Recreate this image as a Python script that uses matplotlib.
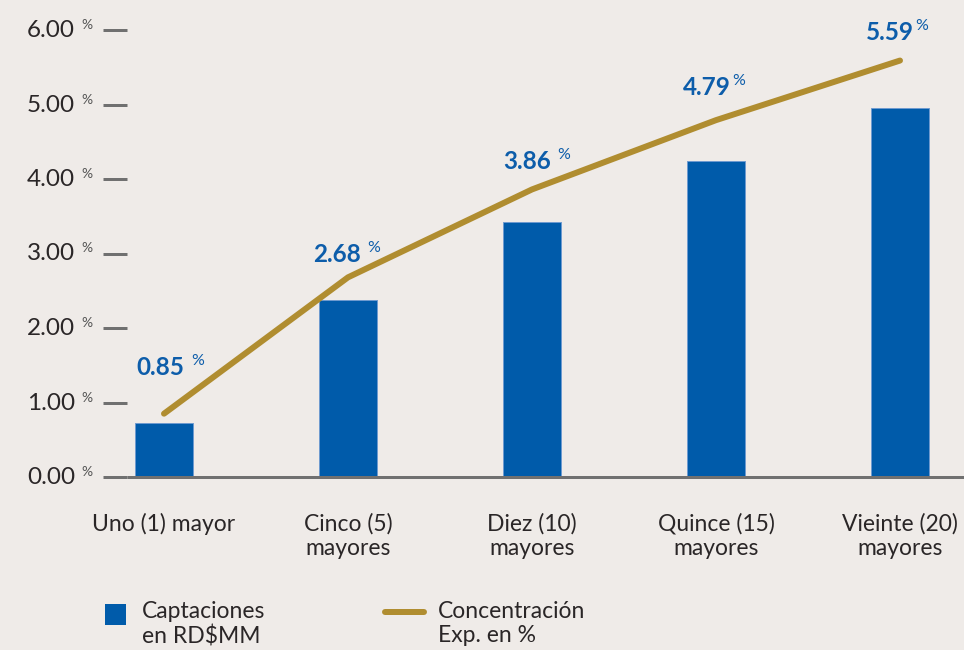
import matplotlib
matplotlib.use("Agg")
import matplotlib.pyplot as plt
from matplotlib.patches import Rectangle
from matplotlib.lines import Line2D

plt.rcParams['font.family'] = ['Lato', 'DejaVu Sans']

# Data
categories = ["Uno (1) mayor", "Cinco (5)\nmayores", "Diez (10)\nmayores",
              "Quince (15)\nmayores", "Vieinte (20)\nmayores"]
captaciones = [0.72, 2.38, 3.42, 4.24, 4.95]
concentracion = [0.85, 2.68, 3.86, 4.79, 5.59]
pct_spaced = [True, True, True, False, False]
y_ticks = [0, 1, 2, 3, 4, 5, 6]

# Style
BG = "#EFEBE8"
BLUE = "#005BAA"
LABEL_BLUE = "#0D5DAA"
GOLD = "#B08D30"
AXIS_GRAY = "#707070"
TEXT = "#2A2627"
PX = 0.72  # points per pixel at 100 dpi

# label offsets from each line point, in pixels (dx to left edge, dy up to baseline)
label_dx = [-28, -35, -29, -33, -34]
label_dy = [39, 15, 20, 25, 21]

fig = plt.figure(figsize=(9.64, 6.5), dpi=100, facecolor=BG)
ax = fig.add_axes([127 / 964, 1 - 477 / 650, 1 - 127 / 964, (477 - 30) / 650])
ax.set_facecolor(BG)

x = list(range(len(categories)))
ax.bar(x, captaciones, width=0.31, color=BLUE, edgecolor="#6E9AD0",
       linewidth=0.7, zorder=2)
ax.plot(x, concentracion, color=GOLD, lw=6 * PX, solid_capstyle="round",
        solid_joinstyle="round", zorder=3)

ax.set_xlim(-37 / 184, (964 - 164) / 184)
ax.set_ylim(0, 6)

for s in ["top", "right", "left"]:
    ax.spines[s].set_visible(False)
ax.spines["bottom"].set_color(AXIS_GRAY)
ax.spines["bottom"].set_linewidth(3 * PX)
ax.spines["bottom"].set_capstyle("butt")

ax.set_yticks(y_ticks)
ax.set_yticklabels([])
ax.tick_params(axis="y", length=24 * PX, width=3 * PX, color=AXIS_GRAY,
               direction="out")
ax.set_xticks(x)
ax.set_xticklabels(categories, fontsize=16.5, color=TEXT, linespacing=1.2,
                   ha="center", multialignment="center", fontweight="normal")
ax.tick_params(axis="x", length=0, pad=36 * PX)

# y tick labels with small raised percent sign
for v in y_ticks:
    t = ax.annotate(f"{v:.2f}", xy=(0, v), xycoords=("axes fraction", "data"),
                    xytext=(-52 * PX, -7 * PX), textcoords="offset points",
                    ha="right", va="baseline", fontsize=17.5, color=TEXT,
                    fontweight="normal", annotation_clip=False)
    ax.annotate("%", xy=(1, 1), xycoords=t, xytext=(6 * PX, 1 * PX),
                textcoords="offset points", ha="left", va="top",
                fontsize=10, color="#555555", annotation_clip=False)

# value labels above the line
for i, v in enumerate(concentracion):
    t = ax.annotate(f"{v:.2f}", xy=(i, v), xytext=(label_dx[i] * PX, label_dy[i] * PX),
                    textcoords="offset points", ha="left", va="baseline",
                    fontsize=17.5, fontweight="bold", color=LABEL_BLUE,
                    annotation_clip=False, zorder=4)
    gap = 7 if pct_spaced[i] else 1
    ax.annotate("%", xy=(1, 1), xycoords=t, xytext=(gap * PX, 2 * PX),
                textcoords="offset points", ha="left", va="top",
                fontsize=11.5, color=LABEL_BLUE, annotation_clip=False, zorder=4)

# legend
fig.add_artist(Rectangle((105 / 964, 1 - 625 / 650), 21 / 964, 21 / 650,
                         transform=fig.transFigure, facecolor=BLUE,
                         edgecolor="none"))
fig.add_artist(Line2D([385 / 964, 424 / 964], [1 - 612 / 650, 1 - 612 / 650],
                      transform=fig.transFigure, color=GOLD, lw=6 * PX,
                      solid_capstyle="round"))
fig.text(142 / 964, 1 - 601 / 650, "Captaciones\nen RD$MM", ha="left",
         va="top", fontsize=16.5, color=TEXT, linespacing=1.2)
fig.text(438 / 964, 1 - 601 / 650, "Concentración\nExp. en %", ha="left",
         va="top", fontsize=16.5, color=TEXT, linespacing=1.2)

fig.savefig("out.png", dpi=100, facecolor=BG)
